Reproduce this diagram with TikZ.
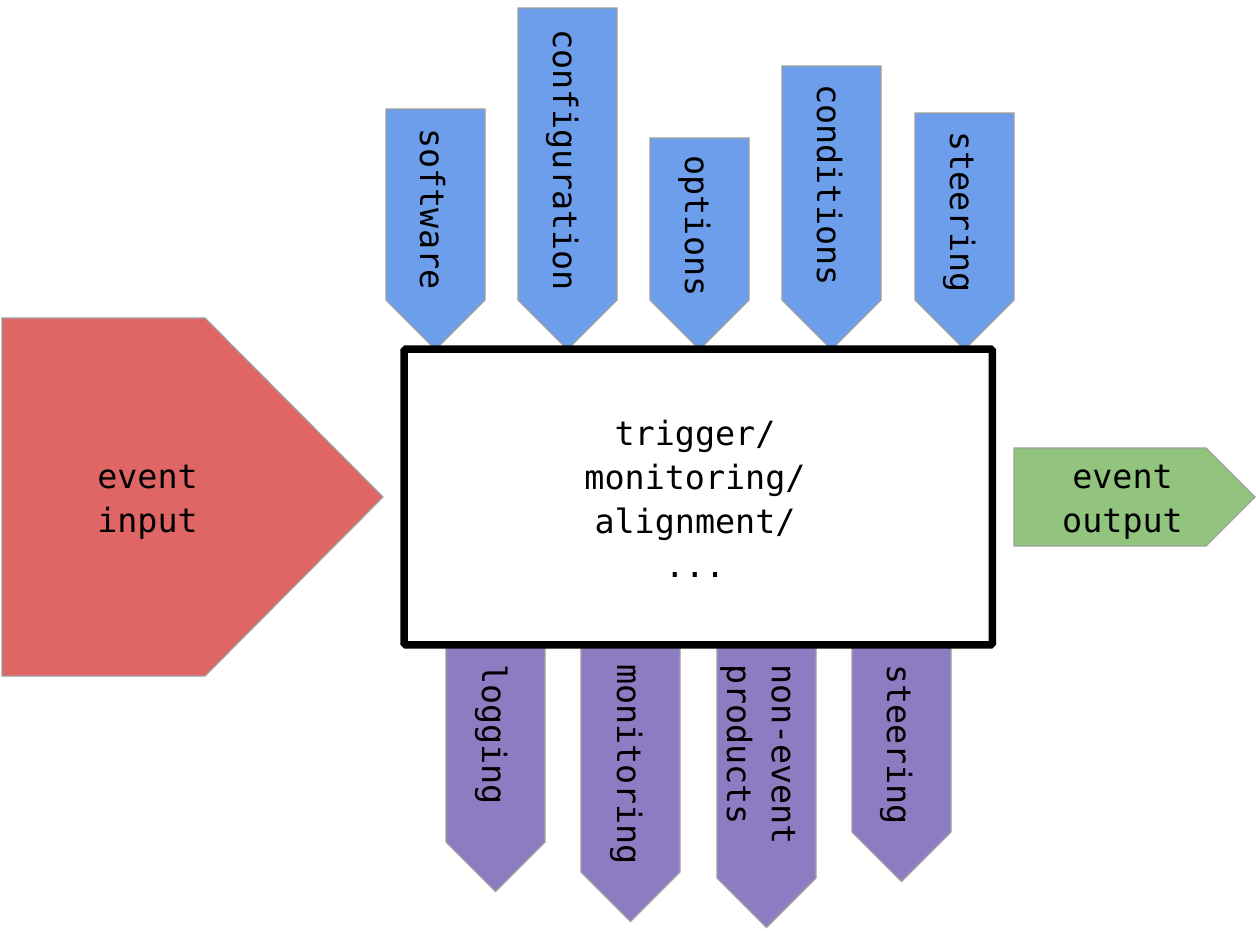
\documentclass[tikz,border=0pt]{standalone}
\usepackage{fontspec}
\newfontfamily\monofont{DejaVu Sans Mono}
\definecolor{inred}{HTML}{E06666}
\definecolor{condblue}{HTML}{6D9EEB}
\definecolor{outgreen}{HTML}{93C47D}
\definecolor{prodpurple}{HTML}{8E7CC3}
\definecolor{edgegray}{HTML}{9E9E9E}

% downward pointing arrow: colour, left x, right x, top y, end of shaft y
\newcommand\dnarrowshape[5]{%
  \filldraw[shapeedge, fill=#1] (#2,#4) -- (#3,#4) -- (#3,#5)
    -- ({(#2+#3)/2},{#5+(#3-#2)/2}) -- (#2,#5) -- cycle;}

\begin{document}
\begin{tikzpicture}[x=0.02cm, y=-0.02cm,
  shapeedge/.style={draw=edgegray, line width=0.7pt, line join=miter},
  lbl/.style={font=\monofont\fontsize{19}{25}\selectfont, inner sep=0pt, outer sep=0pt, text=black},
  vlbl/.style={lbl, rotate=-90},
  corebox/.style={draw=black, fill=white, line width=0.15cm, rounded corners=1pt,
    minimum width=11.77cm, minimum height=5.92cm, inner sep=0pt}]
\useasboundingbox (0,0) rectangle (1256,930);

% inputs from above
\dnarrowshape{condblue}{386}{485}{109}{300}
\dnarrowshape{condblue}{518}{617}{8}{300}
\dnarrowshape{condblue}{650}{749}{138}{300}
\dnarrowshape{condblue}{782}{881}{66}{300}
\dnarrowshape{condblue}{915}{1014}{113}{300}

% products below
\dnarrowshape{prodpurple}{446}{545}{640}{842}
\dnarrowshape{prodpurple}{581}{680}{640}{872}
\dnarrowshape{prodpurple}{717}{816}{640}{878}
\dnarrowshape{prodpurple}{852}{951}{640}{832}

% event flow
\filldraw[shapeedge, fill=inred] (2,318) -- (205,318) -- (383,497) -- (205,676) -- (2,676) -- cycle;
\filldraw[shapeedge, fill=outgreen] (1014,448) -- (1206,448) -- (1255,497) -- (1206,546) -- (1014,546) -- cycle;

% processing box (base anchor of a multi-line node sits on its last line)
\node[corebox] (core) at (698.25,497) {};
\node[lbl, align=center, anchor=base] (coretxt) at (695,577) {trigger/\\monitoring/\\alignment/\\...};

\node[lbl, align=center, anchor=base] (evin) at (147.5,532) {event\\input};
\node[lbl, align=center, anchor=base] (evout) at (1122.5,532) {event\\output};

% labels of the inputs
\node[vlbl, anchor=base] (software) at (420,209) {software};
\node[vlbl, anchor=base] (configuration) at (553,160) {configuration};
\node[vlbl, anchor=base] (options) at (685,226) {options};
\node[vlbl, anchor=base] (conditions) at (817,185) {conditions};
\node[vlbl, anchor=base] (steerin) at (950,212) {steering};

% labels of the products
\node[vlbl, anchor=base west] (logging) at (482,664) {logging};
\node[vlbl, anchor=base west] (monitoring) at (617,664) {monitoring};
\node[vlbl, anchor=base west, align=left, font=\monofont\fontsize{19}{25.6}\selectfont] (nonevent) at (727,664) {non-event\\products};
\node[vlbl, anchor=base west] (steerout) at (887,664) {steering};
\end{tikzpicture}
\end{document}
